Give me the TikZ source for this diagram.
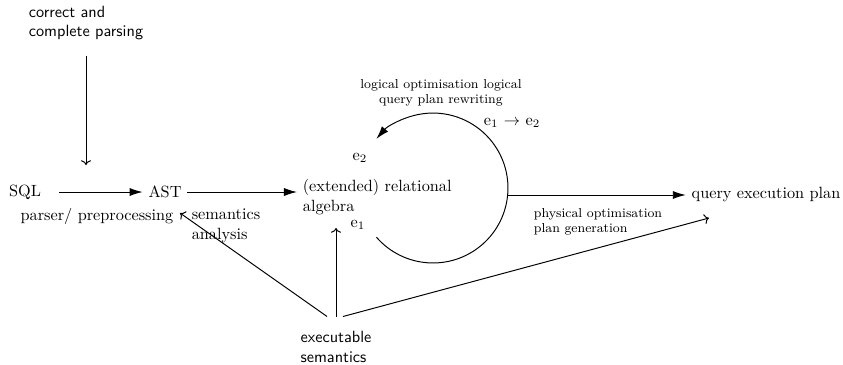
\documentclass[tikz,border=0pt]{standalone}
\usetikzlibrary{arrows.meta}

\begin{document}
\begin{tikzpicture}[x=0.615pt,y=-0.615pt,semithick]
           \useasboundingbox (0,0) rectangle (843,364);
           \node (sql) at (25,192) {SQL};
           \node (ast) at (165,192) {AST};
           \node[anchor=west,align=left] (alg) at (297,197) {(extended) relational\\algebra};
           \node (qep) at (766,195) {query execution plan};
           \node[align=left,font=\sffamily] (parse) at (86,23) {correct and\\complete parsing};
           \node[align=left,font=\sffamily] (exec) at (336,347) {executable\\semantics};
           \node (pp) at (97,216) {parser/ preprocessing};
           \node[align=left] (sem) at (226,226) {semantics\\analysis};
           \node (e2) at (360,158) {e$_2$};
           \node (e1) at (358,225) {e$_1$};
           \node (e12) at (512,123) {e$_1$ $\rightarrow$ e$_2$};
           \node[font=\footnotesize,align=center] (logopt) at (441,93) {logical optimisation logical\\query plan rewriting};
           \node[font=\footnotesize,align=left] (phyopt) at (598,222) {physical optimisation\\plan generation};

           \coordinate (c) at (433,188);
           \coordinate (ce) at (508,195);
           \coordinate (pin) at (86,165);
           \coordinate (astin) at (180,213);
           \coordinate (algin) at (336,228);
           \coordinate (qepin) at (709,218);

           \draw[-{Latex[length=8pt,width=5pt]},shorten <=7.5pt] (sql) -- (ast);
           \draw[-{Latex[length=8pt,width=5pt]}] (ast) -- (ast -| alg.west);
           \draw[-{Latex[length=8pt,width=5pt]}] (ce) -- (qep);
           \draw[->,shorten <=6pt] (parse) -- (pin);
           \draw[-{Latex[length=8pt,width=5pt]}] (c) ++(-139:46.1pt) arc[start angle=-139,end angle=139,radius=46.1pt];
           \draw[->] ([yshift=5.6pt]exec.north) -- (algin);
           \draw[->] ([xshift=-5.5pt,yshift=5.6pt]exec.north) -- (astin);
           \draw[->] ([xshift=4.3pt,yshift=5.6pt]exec.north) -- (qepin);
         \end{tikzpicture}
\end{document}
